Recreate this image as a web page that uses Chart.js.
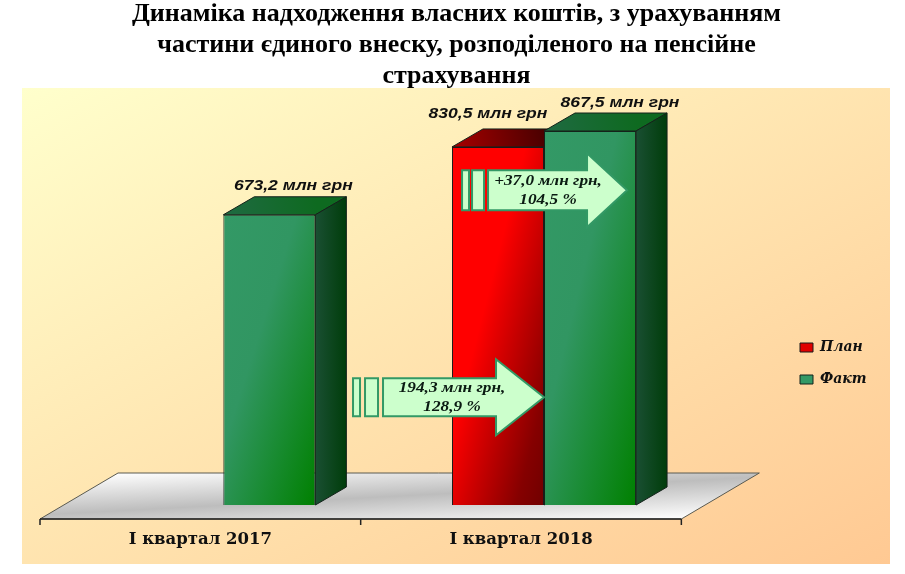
<!DOCTYPE html>
<html lang="uk">
<head>
<meta charset="utf-8">
<title>Динаміка надходження власних коштів</title>
<style>html,body{margin:0;padding:0;background:#fff}canvas{display:block}</style>
<script src="https://cdn.jsdelivr.net/npm/chart.js@4/dist/chart.umd.min.js"></script>
</head>
<body>
<canvas id="c" width="905" height="574"></canvas>
<script>
const titleLines = ['Динаміка надходження власних коштів, з урахуванням','частини єдиного внеску, розподіленого на пенсійне','страхування'];
const categories = ['І квартал 2017','І квартал 2018'];
const planValues = [null, 830.5];
const factValues = [673.2, 867.5];
const valueUnit = ' млн грн';
const calloutLow = ['194,3 млн грн,','128,9 %'];
const calloutHigh = ['+37,0 млн грн,','104,5 %'];

const DX = 31, DY = 18;          // bar depth
const FLOOR_X = 23, FLOOR_Y = 14; // offset of the floor front edge from the bar base
const FLOOR_BACK = 78, FLOOR_H = 46;

function fmt(v){ return v.toFixed(1).replace('.', ','); }

function faceFill(stops, solid){
  return function(ctx){
    if (ctx.type !== 'data' || !ctx.chart.chartArea || ctx.raw == null) return solid;
    const y = ctx.chart.scales.y;
    const x = ctx.chart.scales.x.getPixelForValue(ctx.dataIndex);
    const W = ctx.chart.scales.x.width / categories.length * 0.574 / 2;
    const L = x + (ctx.datasetIndex === 1 ? 0 : -W);
    const T = y.getPixelForValue(ctx.raw), B = y.getPixelForValue(0), H = B - T;
    if (![L, T, H, W].every(Number.isFinite) || H <= 0) return solid;
    const k = 2*W*H/(H*H + W*W);
    const g = ctx.chart.ctx.createLinearGradient(L, T, L + H*k, T + W*k);
    stops.forEach(s => g.addColorStop(s[0], s[1]));
    return g;
  };
}

function drawDepth(chart, meta){
  const c = chart.ctx, base = chart.scales.y.getPixelForValue(0), plan = meta.index === 0;
  meta.data.forEach((el, i) => {
    if (el.skip || meta._parsed[i].y == null) return;
    const {x, y, width} = el.getProps(['x','y','width'], true);
    const L = x - width/2, R = x + width/2;
    c.save();
    const tg = c.createLinearGradient(L, y, R, y-DY);
    const sg = c.createLinearGradient(R, y, R+DX, y);
    if (plan){ tg.addColorStop(0,'#a80000'); tg.addColorStop(1,'#4a0000'); sg.addColorStop(0,'#800000'); sg.addColorStop(1,'#400000'); }
    else { tg.addColorStop(0,'#1f6a42'); tg.addColorStop(1,'#0e6a20'); sg.addColorStop(0,'#1a4f33'); sg.addColorStop(1,'#003d0a'); }
    c.strokeStyle = '#14221a'; c.lineWidth = 1;
    c.beginPath(); c.moveTo(L,y); c.lineTo(L+DX,y-DY); c.lineTo(R+DX,y-DY); c.lineTo(R,y); c.closePath();
    c.fillStyle = tg; c.fill(); c.stroke();
    c.beginPath(); c.moveTo(R,y); c.lineTo(R+DX,y-DY); c.lineTo(R+DX,base-DY); c.lineTo(R,base); c.closePath();
    c.fillStyle = sg; c.fill(); c.stroke();
    c.restore();
  });
}

function wideText(c, text, x, y, sx){
  c.save(); c.translate(x, y); c.scale(sx, 1); c.fillText(text, 0, 0); c.restore();
}

function drawOverlays(chart){
  const c = chart.ctx, yS = chart.scales.y;
  const planEl = chart.getDatasetMeta(0).data[1];
  const factEl0 = chart.getDatasetMeta(1).data[0];
  const factEl1 = chart.getDatasetMeta(1).data[1];
  c.save();
  c.textAlign = 'center'; c.textBaseline = 'middle';
  c.fillStyle = '#101010';
  c.font = 'italic bold 15px "Liberation Sans"';
  wideText(c, fmt(factValues[0]) + valueUnit, factEl0.x + 24, factEl0.y - 29, 1.17);
  wideText(c, fmt(planValues[1]) + valueUnit, planEl.x - 10, planEl.y - 33, 1.17);
  wideText(c, fmt(factValues[1]) + valueUnit, factEl1.x + 30, factEl1.y - 28, 1.17);

  function arrow(tip, cy, headLen, bodyLen, bodyHalf, headHalf, s1, s2, lines, textX, gap){
    const start = tip - headLen - bodyLen;
    c.fillStyle = '#CCFFCC'; c.strokeStyle = '#339966'; c.lineWidth = 2; c.lineJoin = 'miter';
    [s1, s2].forEach(s => {
      c.beginPath(); c.rect(start + s[0], cy - bodyHalf, s[1] - s[0], bodyHalf*2); c.fill(); c.stroke();
    });
    c.beginPath();
    c.moveTo(start, cy - bodyHalf); c.lineTo(tip - headLen, cy - bodyHalf);
    c.lineTo(tip - headLen, cy - headHalf); c.lineTo(tip, cy);
    c.lineTo(tip - headLen, cy + headHalf); c.lineTo(tip - headLen, cy + bodyHalf);
    c.lineTo(start, cy + bodyHalf); c.closePath();
    c.fill(); c.stroke();
    c.fillStyle = '#0a1a12';
    c.font = 'italic bold 15px "Liberation Serif"';
    wideText(c, lines[0], textX, cy - gap, 1.15);
    wideText(c, lines[1], textX, cy + gap, 1.15);
  }
  const boundary = factEl1.x - factEl1.width/2;
  arrow(boundary, yS.getPixelForValue(250), 48, 113, 19, 38, [-30,-23], [-18,-5], calloutLow, boundary - 92, 9.5);
  arrow(factEl1.x + 37, yS.getPixelForValue(730), 40, 99, 20, 37, [-26,-19], [-16,-4], calloutHigh, factEl1.x - 42, 9.5);
  c.restore();
}

const scene = {
  id: 'scene',
  afterLayout(chart){
    const t = chart.titleBlock; t.left = 0; t.right = 913; t.top = -1.5;
    const l = chart.legend; const w = l.width, h = l.height;
    l.left = 782; l.right = 782 + w; l.top = 322.5; l.bottom = 322.5 + h;
  },
  beforeDraw(chart){
    const c = chart.ctx, x = chart.scales.x, y = chart.scales.y;
    c.save();
    const PW = 868, PH = 476, pk = 2*PW*PH/(PW*PW + PH*PH);
    const bg = c.createLinearGradient(22, 88, 22 + PH*pk, 88 + PW*pk);
    bg.addColorStop(0,'#FFFFCC'); bg.addColorStop(1,'#FFC993');
    c.fillStyle = bg; c.fillRect(22,88,PW,PH);

    const l = x.left - FLOOR_X, r = x.right - FLOOR_X, f = y.bottom + FLOOR_Y;
    const g = c.createLinearGradient(398, f-61, 402, f+15);
    g.addColorStop(0,'#ffffff'); g.addColorStop(0.5,'#bdbdbd'); g.addColorStop(1,'#ffffff');
    c.beginPath(); c.moveTo(l,f); c.lineTo(l+FLOOR_BACK,f-FLOOR_H); c.lineTo(r+FLOOR_BACK,f-FLOOR_H); c.lineTo(r,f); c.closePath();
    c.fillStyle = g; c.fill();
    c.strokeStyle = '#5a5a50'; c.lineWidth = 1; c.stroke();
    c.beginPath(); c.strokeStyle = '#222'; c.lineWidth = 1.5;
    c.moveTo(l,f); c.lineTo(r,f);
    [0,1,2].forEach(i => { const tx = l + (r-l)*i/2; c.moveTo(tx,f); c.lineTo(tx,f+6); });
    c.stroke();
    c.restore();
  },
  beforeDatasetsDraw(chart){
    // plan first, fact over it: the fact column stands in front
    [0,1].forEach(i => {
      const meta = chart.getDatasetMeta(i);
      drawDepth(chart, meta);
      meta.controller.draw();
    });
    drawOverlays(chart);
    return false;
  }
};

const legendSwatches = ['#E00000', '#339966'];

new Chart(document.getElementById('c'), {
  type: 'bar',
  data: {
    labels: categories,
    datasets: [
      { label: 'План', data: planValues, borderColor: '#1a1a1a', borderWidth: 1,
        backgroundColor: faceFill([[0,'#FF0000'],[0.4,'#FF0000'],[0.85,'#850000'],[1,'#700000']], '#E00000') },
      { label: 'Факт', data: factValues, borderColor: '#14221a', borderWidth: 1,
        backgroundColor: faceFill([[0,'#339966'],[0.4,'#319662'],[1,'#008000']], '#339966') }
    ]
  },
  options: {
    responsive: false,
    animation: false,
    devicePixelRatio: 1,
    layout: { padding: { left: 63, right: 106, top: 0, bottom: 0 } },
    datasets: { bar: { barPercentage: 1, categoryPercentage: 0.574 } },
    scales: {
      x: {
        grid: { display: false }, border: { display: false },
        afterFit(s){ s.height = 69; },
        ticks: { labelOffset: -23, padding: 17, maxRotation: 0, autoSkip: false, color: '#101010',
                 font: { family: '"DejaVu Serif"', weight: 'bold', size: 16.5 } }
      },
      y: { display: false, min: 0, max: 900 }
    },
    plugins: {
      tooltip: { enabled: false },
      title: { display: true, text: titleLines, color: '#000',
               font: { family: '"Liberation Serif"', weight: 'bold', size: 26, lineHeight: 1.2 },
               padding: { top: 0, bottom: 23.4 } },
      legend: { position: 'right', align: 'start',
                labels: { boxWidth: 13, boxHeight: 9, padding: 18, color: '#101010',
                          font: { family: '"DejaVu Serif"', style: 'italic', weight: 'bold', size: 14 },
                          generateLabels(chart){
                            return Chart.defaults.plugins.legend.labels.generateLabels(chart)
                              .map((it, i) => Object.assign(it, { fillStyle: legendSwatches[i] }));
                          } } }
    }
  },
  plugins: [scene]
});
</script>
</body>
</html>
